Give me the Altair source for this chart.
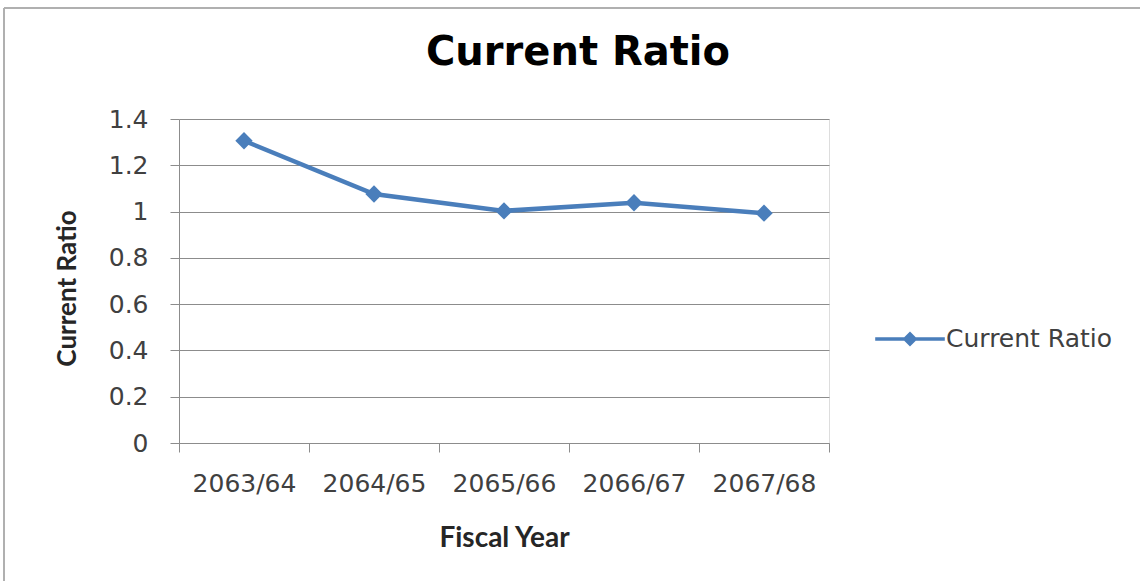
import altair as alt
import pandas as pd

years = ["2063/64", "2064/65", "2065/66", "2066/67", "2067/68"]
ratio = [1.306, 1.076, 1.003, 1.038, 0.993]
series = ["Current Ratio"] * len(years)
y_ticks = [0, 0.2, 0.4, 0.6, 0.8, 1, 1.2, 1.4]

df = pd.DataFrame({"year": years, "ratio": ratio, "series": series})

BLUE = "#4A7EBB"
PLOT_W, PLOT_H = 650, 324
PAD_L, PAD_T = 179, 119

legend_symbol = "M-2.9,0H2.9M0,-0.42L0.42,0L0,0.42L-0.42,0Z"

x_enc = alt.X(
    "year:N", sort=years, bandPosition=0.5,
    scale=alt.Scale(type="band", paddingInner=0, paddingOuter=0),
    axis=alt.Axis(
        title="Fiscal Year", labelAngle=0, tickBand="extent", grid=False,
        tickSize=9, labelPadding=19, domainColor="#8c8c8c", tickColor="#8c8c8c",
        labelFont="DejaVu Sans", labelFontSize=25, labelColor="#404040",
        titleFont="Lato", titleFontWeight="bold", titleFontSize=28, titleColor="#262626",
        titleX=PLOT_W / 2, titleY=103, titleBaseline="alphabetic", titleAnchor="middle",
    ),
)
y_enc = alt.Y(
    "ratio:Q", scale=alt.Scale(domain=[0, 1.4], nice=False),
    axis=alt.Axis(
        title="Current Ratio", values=y_ticks, format=".1~f",
        tickSize=9, labelPadding=22, domainColor="#8c8c8c", tickColor="#8c8c8c",
        gridColor="#8c8c8c", gridWidth=1,
        labelFont="DejaVu Sans", labelFontSize=25, labelColor="#404040",
        titleFont="Lato", titleFontWeight="bold", titleFontSize=26, titleColor="#262626",
        titleX=-112, titleY=169, titleAngle=-90, titleBaseline="middle", titleAnchor="middle",
    ),
)
color_enc = alt.Color(
    "series:N", scale=alt.Scale(range=[BLUE]),
    legend=alt.Legend(
        title=None, orient="none", legendX=717, legendY=206, padding=0,
        symbolType=legend_symbol, symbolSize=576, symbolStrokeWidth=3.5,
        symbolFillColor=BLUE, symbolStrokeColor=BLUE, labelOffset=22, labelLimit=400,
        labelFont="DejaVu Sans", labelFontSize=25, labelColor="#404040",
    ),
)

line = alt.Chart(df).mark_line(strokeWidth=4.5).encode(x=x_enc, y=y_enc, color=color_enc)
points = alt.Chart(df).mark_point(shape="diamond", filled=True, size=300, opacity=1).encode(
    x=x_enc, y=y_enc, color=alt.Color("series:N", scale=alt.Scale(range=[BLUE]), legend=None)
)

one = alt.Data(values=[{"a": 1}])
frame_top = alt.Chart(one).mark_rule(stroke="#b0b0b0", strokeWidth=2).encode(
    x=alt.value(-175), x2=alt.value(1300), y=alt.value(-111)
)
frame_left = alt.Chart(one).mark_rule(stroke="#b0b0b0", strokeWidth=2).encode(
    x=alt.value(-175), y=alt.value(-111), y2=alt.value(800)
)

chart = alt.layer(frame_top, frame_left, line, points).properties(
    width=PLOT_W, height=PLOT_H,
    title=alt.TitleParams(
        "Current Ratio", font="DejaVu Sans", fontSize=40, fontWeight="bold", color="#000000",
        anchor="middle", frame="group", dx=74, offset=-98, baseline="alphabetic",
    ),
    autosize=alt.AutoSizeParams(type="none"),
    padding={"left": PAD_L, "top": PAD_T, "right": 1140 - PAD_L - PLOT_W, "bottom": 581 - PAD_T - PLOT_H},
).configure_view(stroke=None).configure(background="white")

chart.save("out.html", embed_options={"renderer": "svg", "actions": False})
